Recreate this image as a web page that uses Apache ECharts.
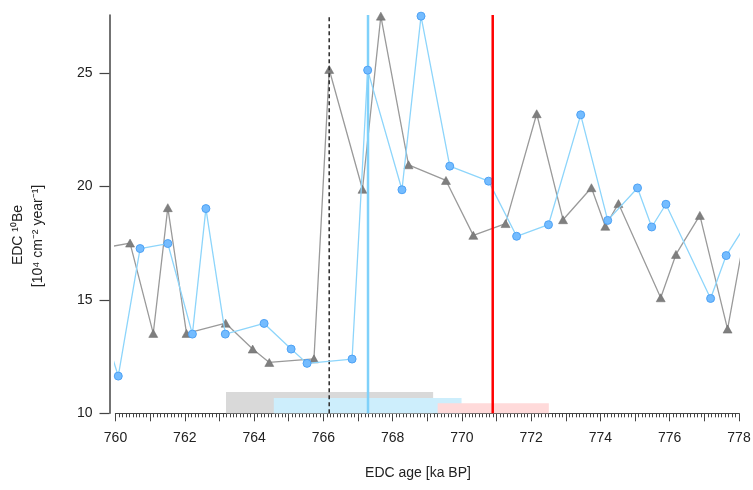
<!DOCTYPE html>
<html>
<head>
<meta charset="utf-8">
<script src="https://cdn.jsdelivr.net/npm/echarts@6/dist/echarts.min.js"></script>
<style>
html,body{margin:0;padding:0;background:#fff;}
#chart{width:753px;height:490px;}
</style>
</head>
<body>
<div id="chart"></div>
<script>
// ---- data ----
var xTickLabels = [760, 762, 764, 766, 768, 770, 772, 774, 776, 778];
var yTickLabels = [10, 15, 20, 25];

var grayAge = [759.7, 760.42, 761.09, 761.51, 762.05, 763.18, 763.96, 764.44, 765.73, 766.17, 767.13, 767.66, 768.46, 769.54, 770.33, 771.26, 772.16, 772.92, 773.74, 774.14, 774.52, 775.74, 776.18, 776.87, 777.67, 778.3];
var grayVal = [17.3, 17.5, 13.52, 19.06, 13.52, 13.97, 12.83, 12.24, 12.40, 25.15, 19.87, 27.5, 20.95, 20.26, 17.84, 18.36, 23.2, 18.53, 19.94, 18.24, 19.24, 15.09, 17.0, 18.72, 13.71, 19.0];

var blueAge = [759.8, 760.08, 760.71, 761.51, 762.22, 762.61, 763.17, 764.29, 765.07, 765.53, 766.83, 767.28, 768.27, 768.82, 769.65, 770.77, 771.58, 772.5, 773.43, 774.21, 775.07, 775.48, 775.89, 777.18, 777.63, 778.4];
var blueVal = [13.0, 11.64, 17.26, 17.48, 13.49, 19.02, 13.49, 13.96, 12.83, 12.2, 12.39, 25.12, 19.85, 27.5, 20.89, 20.23, 17.8, 18.31, 23.15, 18.5, 19.93, 18.21, 19.21, 15.06, 16.95, 18.8];

var rangeStart = [763.19, 764.57, 769.3];
var rangeEnd   = [769.17, 769.99, 772.51];
var rangeTop   = [10.94, 10.67, 10.44];

var dashedAge = 766.17;
var blueLineAge = 767.29;
var redLineAge = 770.89;

var xMin = 760, xMax = 778, yMin = 10, yMax = 27.55;

// ---- build ----
function pts(ages, vals) {
  return ages.map(function (a, i) {
    var item = { value: [a, vals[i]] };
    if (a < xMin || a > xMax) item.symbol = 'none';
    return item;
  });
}
function vline(x) { return [[x, yMin], [x, yMax]]; }

var font = '"Liberation Sans", Arial, sans-serif';
var rangeColors = ['#d9d9d9', '#cdeefc', '#ffdada'];

var areaSeries = rangeStart.map(function (s, i) {
  return {
    type: 'line', data: [], silent: true, z: 1,
    markArea: {
      silent: true,
      itemStyle: { color: rangeColors[i], opacity: 1 },
      data: [[{ coord: [s, yMin] }, { coord: [rangeEnd[i], rangeTop[i]] }]]
    }
  };
});

var chart = echarts.init(document.getElementById('chart'), null, { renderer: 'canvas' });
chart.setOption({
  animation: false,
  backgroundColor: '#fff',
  grid: { left: 115.5, right: 14, top: 15, bottom: 76.7, containLabel: false, outerBoundsMode: 'none' },
  xAxis: {
    type: 'value', min: xMin, max: xMax, interval: 1,
    axisLine: { show: true, lineStyle: { color: '#444', width: 1.2 } },
    axisTick: { show: true, length: 8, lineStyle: { color: '#444', width: 1 } },
    minorTick: { show: true, splitNumber: 10, length: 4, lineStyle: { color: '#444', width: 1 } },
    axisLabel: {
      customValues: xTickLabels,
      formatter: function (v) { return xTickLabels.indexOf(Math.round(v * 100) / 100) >= 0 ? String(v) : ''; },
      color: '#222', fontSize: 14, fontFamily: font, margin: 18
    },
    splitLine: { show: false }, minorSplitLine: { show: false }
  },
  yAxis: {
    type: 'value', min: yMin, max: yMax, interval: 5, offset: 6,
    axisLine: { show: true, lineStyle: { color: '#444', width: 1.5 } },
    axisTick: { show: true, length: 10, customValues: yTickLabels, lineStyle: { color: '#444', width: 1.2 } },
    axisLabel: {
      customValues: yTickLabels,
      formatter: function (v) { return yTickLabels.indexOf(v) >= 0 ? String(v) : ''; },
      color: '#222', fontSize: 14, fontFamily: font, margin: 17
    },
    splitLine: { show: false }
  },
  graphic: [
    {
      type: 'text', x: 418, y: 473, z: 100,
      style: { text: 'EDC age [ka BP]', fill: '#222', font: '14px ' + font, align: 'center', verticalAlign: 'middle' }
    },
    {
      type: 'text', x: 18, y: 235, rotation: Math.PI / 2, z: 100,
      style: { text: 'EDC \u00B9\u2070Be', fill: '#222', font: '14px ' + font, align: 'center', verticalAlign: 'middle' }
    },
    {
      type: 'text', x: 38, y: 236, rotation: Math.PI / 2, z: 100,
      style: { text: '[10\u2074 cm\u207B\u00B2 year\u207B\u00B9]', fill: '#222', font: '14px ' + font, align: 'center', verticalAlign: 'middle' }
    }
  ],
  series: areaSeries.concat([
    {
      name: 'gray', type: 'line', data: pts(grayAge, grayVal), clip: true, z: 3,
      symbol: 'triangle', symbolSize: [9, 8],
      lineStyle: { color: '#9a9a9a', width: 1.3 },
      itemStyle: { color: '#7f7f7f', borderColor: '#6a6a6a', borderWidth: 0.5 }
    },
    {
      name: 'dashed', type: 'line', data: vline(dashedAge), symbol: 'none', z: 4,
      lineStyle: { color: '#333', width: 1.6, type: [4, 3] }
    },
    {
      name: 'blueLine', type: 'line', data: vline(blueLineAge), symbol: 'none', z: 4,
      lineStyle: { color: '#7fd1fa', width: 2.5 }
    },
    {
      name: 'blue', type: 'line', data: pts(blueAge, blueVal), clip: true, z: 5,
      symbol: 'circle', symbolSize: 8,
      lineStyle: { color: '#8dd5fb', width: 1.3 },
      itemStyle: { color: '#74bcff', borderColor: '#4ea2f5', borderWidth: 1 }
    },
    {
      name: 'redLine', type: 'line', data: vline(redLineAge), symbol: 'none', z: 6,
      lineStyle: { color: '#ff0000', width: 2.5 }
    }
  ])
});
</script>
</body>
</html>
